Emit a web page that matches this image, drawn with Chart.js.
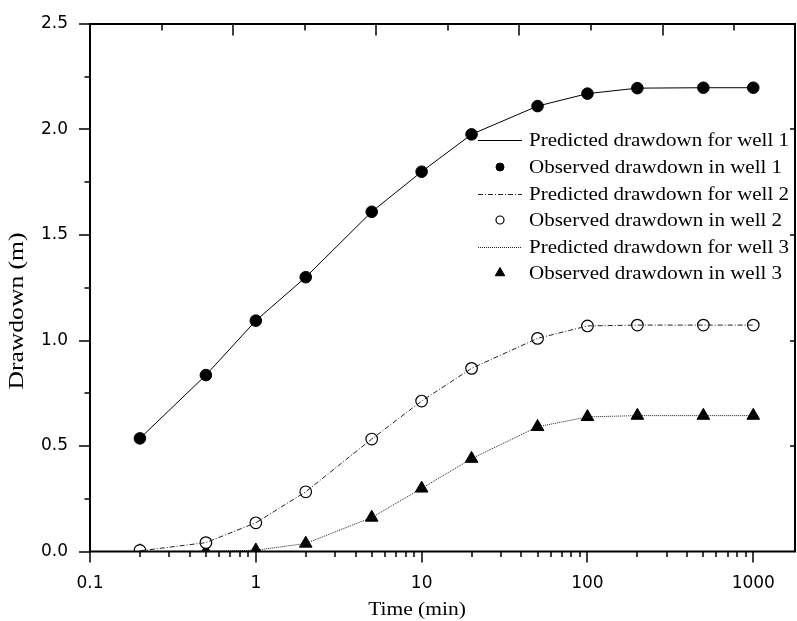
<!DOCTYPE html>
<html>
<head>
<meta charset="utf-8">
<script src="https://cdn.jsdelivr.net/npm/chart.js@4/dist/chart.umd.min.js"></script>
<style>
html,body{margin:0;padding:0;background:#fff;}
#wrap{width:797px;height:621px;position:relative;}
</style>
</head>
<body>
<div id="wrap"><canvas id="c" width="797" height="621"></canvas></div>
<script>
// ---- data ----
const times = [0.2, 0.5, 1, 2, 5, 10, 20, 50, 100, 200, 500, 1000];
const predicted1 = [0.536, 0.836, 1.094, 1.30, 1.61, 1.80, 1.977, 2.111, 2.17, 2.196, 2.198, 2.198];
const observed1  = [0.536, 0.836, 1.094, 1.30, 1.61, 1.80, 1.977, 2.111, 2.17, 2.196, 2.198, 2.198];
const predicted2 = [0.003, 0.042, 0.136, 0.283, 0.533, 0.713, 0.868, 1.01, 1.069, 1.073, 1.073, 1.073];
const observed2  = [0.005, 0.042, 0.136, 0.283, 0.533, 0.713, 0.868, 1.01, 1.069, 1.073, 1.073, 1.073];
const predicted3 = [0.0, 0.001, 0.006, 0.038, 0.161, 0.299, 0.44, 0.591, 0.638, 0.644, 0.644, 0.644];
const observed3  = [0.002, 0.0, 0.006, 0.038, 0.161, 0.299, 0.44, 0.591, 0.638, 0.644, 0.644, 0.644];
const seriesLabels = [
  'Predicted drawdown for well 1',
  'Observed drawdown in well 1',
  'Predicted drawdown for well 2',
  'Observed drawdown in well 2',
  'Predicted drawdown for well 3',
  'Observed drawdown in well 3'
];
const xTickLabels = [0.1, 1, 10, 100, 1000];
const yTickLabels = [0, 0.5, 1, 1.5, 2, 2.5];
const xTitle = 'Time (min)';
const yTitle = 'Drawdown (m)';

const pts = arr => times.map((t, i) => ({x: t, y: arr[i]}));

const tickFont = {family: 'DejaVu Sans', size: 17};
const serif = '"Liberation Serif", "Times New Roman", serif';

const noPad = s => { s.paddingLeft = 0; s.paddingRight = 0; s.paddingTop = 0; s.paddingBottom = 0; };

// draw text stretched along its baseline direction (reference text is slightly wide)
function wideText(ctx, text, x, y, stretch, align) {
  ctx.save();
  ctx.translate(x, y);
  ctx.scale(stretch, 1);
  ctx.textAlign = align;
  ctx.fillText(text, 0, 0);
  ctx.restore();
}

const framePlugin = {
  id: 'frame',
  afterDraw(chart) {
    const ctx = chart.ctx;
    const a = chart.chartArea;
    const xs = chart.scales.x, ys = chart.scales.y, xt = chart.scales.x2;
    ctx.save();
    ctx.strokeStyle = '#000';
    // frame
    ctx.lineWidth = 2;
    ctx.strokeRect(a.left, a.top, a.right - a.left, a.bottom - a.top);
    ctx.lineWidth = 1.5;
    ctx.beginPath();
    // bottom log ticks (outward)
    for (let e = -1; e <= 3; e++) {
      for (let m = 1; m <= 9; m++) {
        const v = m * Math.pow(10, e);
        if (v < xs.min - 1e-9 || v > xs.max) continue;
        const px = Math.round(xs.getPixelForValue(v));
        const len = m === 1 ? 11 : 5.5;
        ctx.moveTo(px, a.bottom); ctx.lineTo(px, a.bottom + len);
      }
    }
    // left ticks (outward), right ticks (inward, majors only)
    for (let k = 0; k <= 10; k++) {
      const v = k * 0.25;
      const py = Math.round(ys.getPixelForValue(v));
      const len = k % 2 === 0 ? 11 : 5.5;
      ctx.moveTo(a.left, py); ctx.lineTo(a.left - len, py);
      if (k > 0 && k < 10 && k % 2 === 0) { ctx.moveTo(a.right, py); ctx.lineTo(a.right - 5, py); }
    }
    // top ticks (inward)
    for (let k = 1; k < xt.max; k++) {
      const px = Math.round(xt.getPixelForValue(k));
      const len = k % 2 === 0 ? 11.5 : 6.5;
      ctx.moveTo(px, a.top); ctx.lineTo(px, a.top + len);
    }
    ctx.stroke();

    // axis titles
    ctx.fillStyle = '#000';
    ctx.textBaseline = 'middle';
    ctx.font = '19px ' + serif;
    wideText(ctx, xTitle, 417, 610, 1.13, 'center');
    ctx.save();
    ctx.translate(18, 311);
    ctx.rotate(-Math.PI / 2);
    ctx.font = '20px ' + serif;
    wideText(ctx, yTitle, 0, 0, 1.28, 'center');
    ctx.restore();

    // legend
    const lx0 = 478, lx1 = 522, mx = 500, tx = 529;
    const rowY = [140, 167, 194, 220, 247, 273];
    ctx.font = '19px ' + serif;
    chart.data.datasets.forEach((ds, i) => {
      const y = rowY[i];
      if (ds.showLine !== false) {
        ctx.save();
        ctx.strokeStyle = ds.borderColor;
        ctx.lineWidth = ds.borderWidth;
        ctx.setLineDash(ds.borderDash || []);
        ctx.beginPath();
        ctx.moveTo(lx0, y + 0.5); ctx.lineTo(lx1, y + 0.5);
        ctx.stroke();
        ctx.restore();
      } else {
        ctx.save();
        ctx.fillStyle = ds.backgroundColor;
        ctx.strokeStyle = ds.borderColor;
        ctx.lineWidth = ds.pointBorderWidth;
        Chart.helpers.drawPoint(ctx, {
          pointStyle: ds.pointStyle,
          radius: ds.pointStyle === 'triangle' ? 5.5 : 4,
          borderWidth: ds.pointBorderWidth,
          rotation: 0
        }, mx, y);
        ctx.restore();
      }
      ctx.fillStyle = '#000';
      wideText(ctx, ds.label, tx, y + 1, 1.105, 'left');
    });
    ctx.restore();
  }
};

new Chart(document.getElementById('c'), {
  type: 'scatter',
  data: {
    datasets: [
      {label: seriesLabels[0], data: pts(predicted1), showLine: true, borderColor: '#000', borderWidth: 1,
       pointRadius: 0, tension: 0, clip: 0},
      {label: seriesLabels[1], data: pts(observed1), showLine: false, pointStyle: 'circle', pointRadius: 5.8,
       backgroundColor: '#000', borderColor: '#000', pointBorderWidth: 1, clip: 0},
      {label: seriesLabels[2], data: pts(predicted2), showLine: true, borderColor: '#222', borderWidth: 1,
       borderDash: [5, 2, 1, 2], pointRadius: 0, tension: 0, clip: 0},
      {label: seriesLabels[3], data: pts(observed2), showLine: false, pointStyle: 'circle', pointRadius: 5.8,
       backgroundColor: '#fff', borderColor: '#000', pointBorderWidth: 1.2, clip: 0},
      {label: seriesLabels[4], data: pts(predicted3), showLine: true, borderColor: '#222', borderWidth: 1,
       borderDash: [1, 1], pointRadius: 0, tension: 0, clip: 0},
      {label: seriesLabels[5], data: pts(observed3), showLine: false, pointStyle: 'triangle', pointRadius: 7.3,
       backgroundColor: '#000', borderColor: '#000', pointBorderWidth: 1, clip: 0}
    ]
  },
  options: {
    responsive: false,
    animation: false,
    devicePixelRatio: 1,
    layout: {autoPadding: false, padding: {top: 24, right: 2, left: 0, bottom: 0}},
    plugins: {legend: {display: false}, tooltip: {enabled: false}},
    elements: {point: {hoverRadius: 0}},
    scales: {
      x: {
        type: 'logarithmic', position: 'bottom', min: 0.1, max: 1785,
        grid: {display: false}, border: {display: false},
        ticks: {
          autoSkip: false, maxRotation: 0, minRotation: 0, color: '#000', font: tickFont, padding: 14,
          callback: v => {
            const hit = xTickLabels.find(t => Math.abs(t - v) < t * 1e-6);
            return hit !== undefined ? String(hit) : '';
          }
        },
        afterFit: s => { s.height = 69.5; noPad(s); }
      },
      x2: {
        type: 'linear', position: 'top', min: 0, max: 9.85,
        grid: {display: false}, border: {display: false},
        ticks: {display: false, stepSize: 1},
        afterFit: s => { s.height = 0; noPad(s); }
      },
      y: {
        type: 'linear', position: 'left', min: 0, max: 2.5,
        grid: {display: false}, border: {display: false},
        ticks: {
          color: '#000', font: tickFont, padding: 14, stepSize: 0.5,
          callback: v => {
            const hit = yTickLabels.find(t => Math.abs(t - v) < 1e-9);
            return hit !== undefined ? hit.toFixed(1) : '';
          }
        },
        afterFit: s => { s.width = 90; noPad(s); }
      }
    }
  },
  plugins: [framePlugin]
});
</script>
</body>
</html>
